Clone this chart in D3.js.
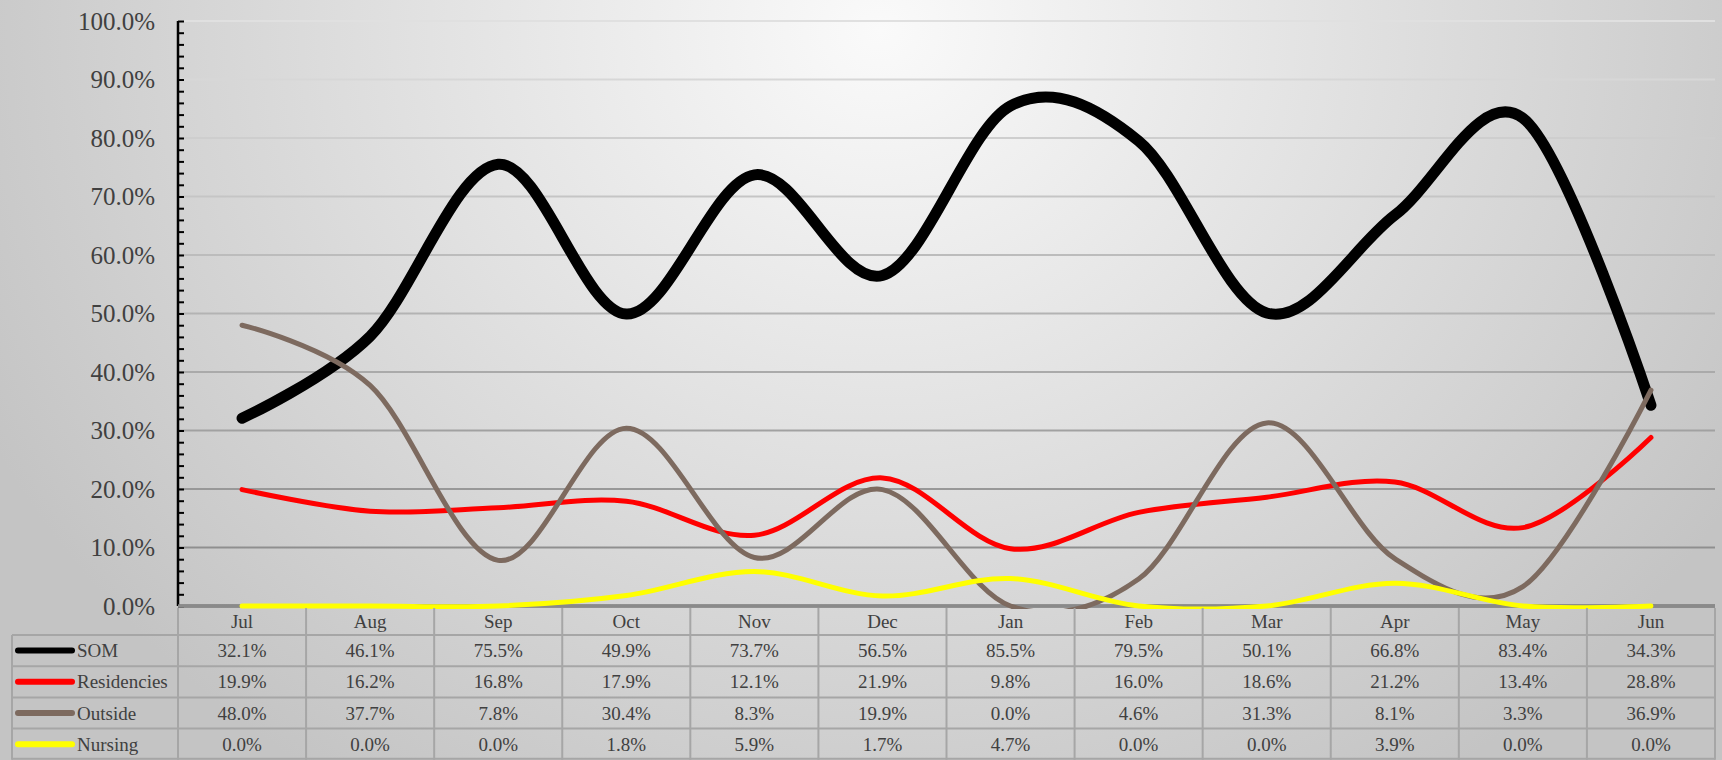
<!DOCTYPE html>
<html>
<head>
<meta charset="utf-8">
<script src="https://cdn.jsdelivr.net/npm/d3@7"></script>
<style>
  html, body { margin: 0; padding: 0; background: #d0d0d0; }
  svg { display: block; }
  text { font-family: "Liberation Serif", "DejaVu Serif", serif; fill: #404040; }
</style>
</head>
<body>
<svg id="chart" width="1722" height="760"></svg>
<script>
const months = ["Jul","Aug","Sep","Oct","Nov","Dec","Jan","Feb","Mar","Apr","May","Jun"];
const seriesNames = ["SOM","Residencies","Outside","Nursing"];
const som         = [0.321,0.461,0.755,0.499,0.737,0.565,0.855,0.795,0.501,0.668,0.834,0.343];
const residencies = [0.199,0.162,0.168,0.179,0.121,0.219,0.098,0.160,0.186,0.212,0.134,0.288];
const outside     = [0.480,0.377,0.078,0.304,0.083,0.199,0.000,0.046,0.313,0.081,0.033,0.369];
const nursing     = [0.000,0.000,0.000,0.018,0.059,0.017,0.047,0.000,0.000,0.039,0.000,0.000];
const yTicks = [0,0.1,0.2,0.3,0.4,0.5,0.6,0.7,0.8,0.9,1.0];

const seriesValues = [som, residencies, outside, nursing];
const seriesColors = ["#000000","#ff0000","#7d6a5f","#ffff00"];
const seriesWidths = [11,5,5,5];

const W = 1722, H = 760;
const plotL = 178, plotR = 1715, plotT = 21, plotB = 606;
const svg = d3.select("#chart");
const defs = svg.append("defs");

const rg = defs.append("radialGradient").attr("id","bg")
  .attr("gradientUnits","userSpaceOnUse")
  .attr("cx",880).attr("cy",30).attr("r",1000)
  .attr("gradientTransform","translate(880,30) scale(1,0.9) translate(-880,-30)");
rg.append("stop").attr("offset","0").attr("stop-color","#fafafa");
rg.append("stop").attr("offset","0.45").attr("stop-color","#e2e2e2");
rg.append("stop").attr("offset","1").attr("stop-color","#c4c4c4");
svg.append("rect").attr("width",W).attr("height",H).attr("fill","url(#bg)");

defs.append("clipPath").attr("id","plotClip").append("rect")
  .attr("x", plotL - 20).attr("y", 0).attr("width", plotR - plotL + 40).attr("height", plotB + 3);

const x = d3.scaleBand().domain(months).range([plotL, plotR]);
const bw = x.bandwidth();
const cx = m => x(m) + bw / 2;
const y = d3.scaleLinear().domain([0,1]).range([plotB, plotT]);
const gridColor = d3.scaleLinear().domain([0,1]).range(["#868686","#e0e0e0"]);

// gridlines
svg.append("g").selectAll("line").data(yTicks.filter(d => d > 0)).join("line")
  .attr("x1", plotL).attr("x2", plotR)
  .attr("y1", d => y(d)).attr("y2", d => y(d))
  .attr("stroke", d => gridColor(d)).attr("stroke-width", 2);

// y tick labels
svg.append("g").selectAll("text").data(yTicks).join("text")
  .attr("x", 155).attr("y", d => y(d)).attr("dy","0.35em")
  .attr("text-anchor","end").attr("font-size", 25)
  .text(d => d3.format(".1%")(d));

// y axis with major and minor ticks (pointing inside)
const minorTicks = d3.range(0, 1.0001, 0.02);
const yAxis = d3.axisRight(y).tickValues(minorTicks).tickSize(6).tickFormat("");
const ga = svg.append("g").attr("transform", `translate(${plotL},0)`).call(yAxis);
ga.select(".domain").attr("stroke","#000").attr("stroke-width",2.5).attr("d", `M0,${plotT}V${plotB}`);
ga.selectAll(".tick line").attr("stroke","#000").attr("stroke-width",2);

// x axis line (double gray)
svg.append("line").attr("x1", plotL).attr("x2", plotR).attr("y1", plotB).attr("y2", plotB)
  .attr("stroke","#7a7a7a").attr("stroke-width",3.5);
svg.append("line").attr("x1", plotL).attr("x2", plotR).attr("y1", plotB).attr("y2", plotB)
  .attr("stroke","#9a9a9a").attr("stroke-width",1);

// series lines
const line = d3.line().x((d,i) => cx(months[i])).y(d => y(d)).curve(d3.curveCardinal.tension(0));
svg.append("g").attr("clip-path","url(#plotClip)").selectAll("path").data(seriesValues).join("path")
  .attr("d", d => line(d)).attr("fill","none")
  .attr("stroke", (d,i) => seriesColors[i]).attr("stroke-width", (d,i) => seriesWidths[i])
  .attr("stroke-linecap","round").attr("stroke-linejoin","round");

// data table
const tableL = 12;
const headerB = 635;
const rowH = 31.2;
const rowYs = seriesNames.map((s,i) => headerB + i * rowH);
const tableB = headerB + seriesNames.length * rowH;
const tg = svg.append("g");
const border = "#a6a6a6";

// vertical lines
tg.selectAll("line.v").data(d3.range(months.length + 1)).join("line").attr("class","v")
  .attr("x1", i => plotL + i * bw).attr("x2", i => plotL + i * bw)
  .attr("y1", plotB + 2).attr("y2", tableB)
  .attr("stroke", border).attr("stroke-width", 2);
tg.append("line").attr("x1", tableL).attr("x2", tableL).attr("y1", headerB).attr("y2", tableB)
  .attr("stroke", border).attr("stroke-width", 2);
// horizontal lines
tg.selectAll("line.h").data(rowYs.concat([tableB - 1])).join("line").attr("class","h")
  .attr("x1", tableL).attr("x2", plotR)
  .attr("y1", d => d).attr("y2", d => d)
  .attr("stroke", border).attr("stroke-width", 2);

// header
tg.selectAll("text.hdr").data(months).join("text").attr("class","hdr")
  .attr("x", m => cx(m)).attr("y", (plotB + headerB) / 2 + 1).attr("dy","0.35em")
  .attr("text-anchor","middle").attr("font-size", 19).text(m => m);

// rows
seriesNames.forEach((name, si) => {
  const ry = rowYs[si] + rowH / 2;
  tg.append("line").attr("x1", 18).attr("x2", 72).attr("y1", ry).attr("y2", ry)
    .attr("stroke", seriesColors[si]).attr("stroke-width", 6).attr("stroke-linecap","round");
  tg.append("text").attr("x", 77).attr("y", ry).attr("dy","0.35em")
    .attr("font-size", 19).text(name);
  tg.selectAll(null).data(seriesValues[si]).join("text")
    .attr("x", (d,i) => cx(months[i])).attr("y", ry).attr("dy","0.35em")
    .attr("text-anchor","middle").attr("font-size", 19)
    .text(d => d3.format(".1%")(d));
});
</script>
</body>
</html>
